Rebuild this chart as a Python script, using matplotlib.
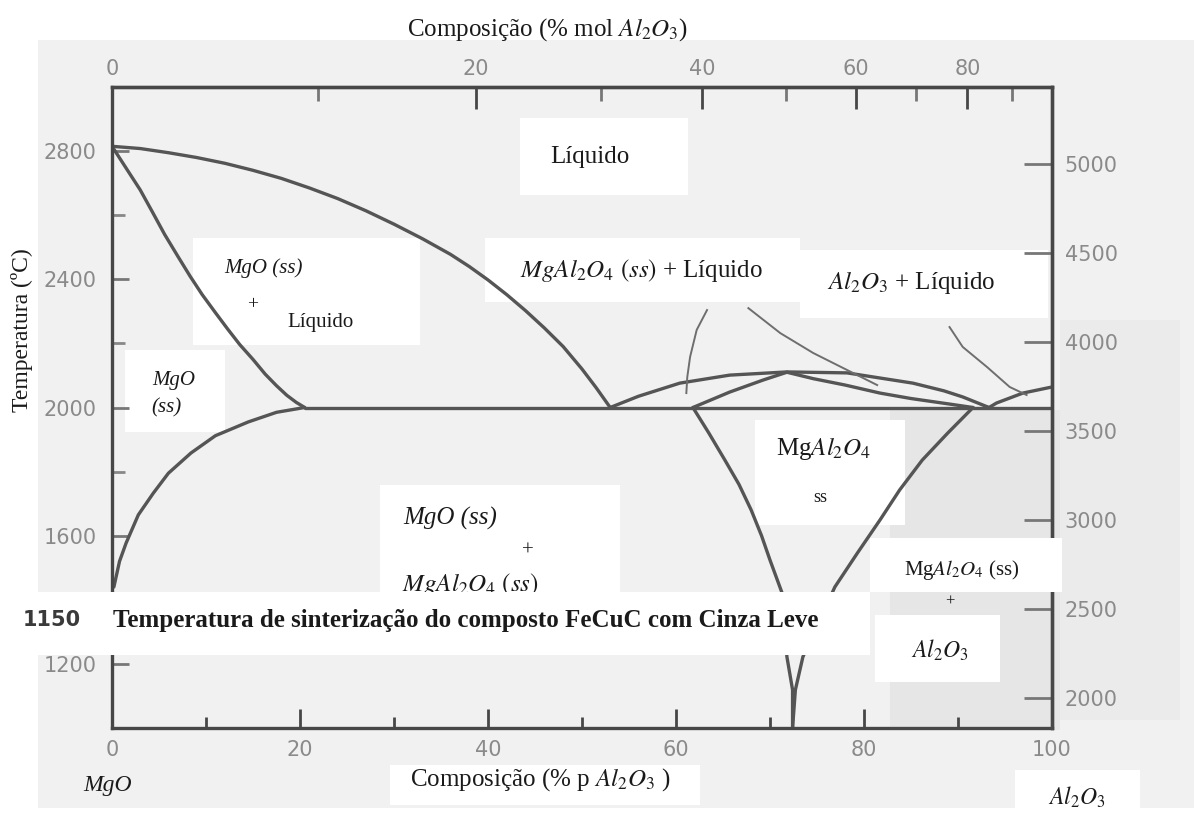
import numpy as np
import matplotlib
matplotlib.use("Agg")
import matplotlib.pyplot as plt
from matplotlib.patches import Rectangle

# ---------------- data (wt% Al2O3, temperature in °C) ----------------
liq_mgo_x = [0, 3, 6, 9, 12, 15, 18, 21, 24, 27, 30, 33, 36, 38, 40, 42, 44, 46, 48, 50,
             51.5, 53]
liq_mgo_T = [2815, 2808, 2795, 2780, 2762, 2740, 2715, 2685, 2652, 2614, 2572, 2527,
             2478, 2440, 2398, 2352, 2302, 2248, 2190, 2120, 2062, 2000]

sol_mgo_x = [0, 1.5, 3, 4.3, 5.6, 7, 8.3, 9.6, 11, 12.3, 13.6, 15, 16.3, 17.5, 18.6, 19.6,
             20.5]
sol_mgo_T = [2815, 2747, 2679, 2610, 2540, 2472, 2410, 2352, 2296, 2245, 2196, 2150,
             2104, 2068, 2038, 2016, 2000]

solv_mgo_x = [0.2, 0.8, 1.5, 2.8, 4.4, 6, 8.4, 11, 14.5, 17.5, 20.5]
solv_mgo_T = [1440, 1520, 1577, 1665, 1733, 1795, 1858, 1912, 1955, 1985, 2000]

eut_x = [20.5, 100]
eut_T = [2000, 2000]

liq_sp_x = [53, 56, 60.4, 65.7, 71.8, 78.2, 85.2, 88.5, 90.5, 93.3]
liq_sp_T = [2000, 2035, 2076, 2101, 2111, 2108, 2076, 2052, 2033, 2000]

sol_sp_x = [61.8, 65.7, 69.3, 71.8, 74.6, 78, 81.7, 85, 88.8, 91.6]
sol_sp_T = [2000, 2048, 2086, 2110, 2090, 2070, 2045, 2028, 2012, 2000]

liq_al_x = [93.3, 94.1, 96.9, 100]
liq_al_T = [2000, 2014, 2045, 2064]

solv_spL_x = [61.8, 63.5, 65.2, 66.7, 68, 69.1, 70, 70.8, 71.3, 71.8, 72.4, 72.4]
solv_spL_T = [2000, 1920, 1836, 1760, 1680, 1600, 1524, 1460, 1420, 1222, 1119, 1000]

solv_spR_x = [91.6, 88.9, 86.2, 83.8, 81.7, 79.3, 76.9, 73.5, 72.7, 72.4]
solv_spR_T = [2000, 1920, 1836, 1743, 1649, 1546, 1440, 1222, 1119, 1000]

lead1_x = [63.3, 62.2, 61.5, 61.2, 61.1]
lead1_T = [2304, 2242, 2158, 2095, 2045]
lead2_x = [67.7, 71.1, 74.6, 78.2, 81.4]
lead2_T = [2310, 2232, 2170, 2117, 2070]
lead3_x = [89.1, 90.5, 93.1, 95.5, 97.3]
lead3_T = [2251, 2189, 2126, 2064, 2039]

bottom_ticks = [0, 20, 40, 60, 80, 100]
top_ticks_mol = [0, 20, 40, 60, 80]
left_ticks = [1200, 1600, 2000, 2400, 2800]
right_ticks_F = [2000, 2500, 3000, 3500, 4000, 4500, 5000]

M_AL2O3 = 101.96
M_MGO = 40.30

# ---------------- figure ----------------
plt.rcParams['mathtext.fontset'] = 'stix'
SERIF = 'Liberation Serif'
W, H = 1194, 832


def fx(x):
    return x / W


def fy(y):
    return 1 - y / H


fig = plt.figure(figsize=(11.94, 8.32), dpi=100, facecolor='white')


def box(x0, y0, x1, y1, color='white', z=-1):
    fig.add_artist(Rectangle((fx(x0), fy(y1)), fx(x1) - fx(x0), fy(y0) - fy(y1),
                             transform=fig.transFigure, facecolor=color,
                             edgecolor='none', zorder=z))


# scanned background
box(38, 40, 1194, 808, '#f1f1f1', -3)
box(890, 410, 1060, 730, '#e6e6e6', -2.5)
box(1060, 320, 1180, 720, '#ebebeb', -2.5)
# white label patches (under curves)
for r in [(520, 118, 688, 195), (193, 238, 420, 345), (125, 350, 225, 432),
          (485, 238, 800, 302), (800, 250, 1048, 318), (755, 420, 905, 525),
          (380, 485, 620, 592), (875, 615, 1000, 682), (390, 765, 700, 805),
          (1015, 770, 1140, 825)]:
    box(*r, z=-1)

ax = fig.add_axes([fx(112), fy(728), fx(1052) - fx(112), fy(87) - fy(728)])
ax.patch.set_visible(False)
ax.set_xlim(0, 100)
ax.set_ylim(1000, 3000)

LC = '#555555'
LW = 2.4
for xs, ts in [(liq_mgo_x, liq_mgo_T), (sol_mgo_x, sol_mgo_T), (solv_mgo_x, solv_mgo_T),
               (eut_x, eut_T), (liq_sp_x, liq_sp_T), (sol_sp_x, sol_sp_T),
               (liq_al_x, liq_al_T), (solv_spL_x, solv_spL_T), (solv_spR_x, solv_spR_T)]:
    ax.plot(xs, ts, color=LC, lw=LW, solid_capstyle='round', solid_joinstyle='round')
for xs, ts in [(lead1_x, lead1_T), (lead2_x, lead2_T), (lead3_x, lead3_T)]:
    ax.plot(xs, ts, color='#6e6e6e', lw=1.4)
ax.plot([81.4, 81.4], [1440, 1490], color='#777777', lw=1.4)

SC = '#474747'
for s in ax.spines.values():
    s.set_color(SC)
    s.set_linewidth(2.4)

TC = '#8a8a8a'
tfont = dict(family='DejaVu Sans', size=15)
ax.set_xticks(bottom_ticks)
ax.set_xticks([10, 30, 50, 70, 90], minor=True)
ax.set_yticks(left_ticks)
ax.set_yticks([1400, 1800, 2200, 2600], minor=True)
ax.set_xticklabels([str(v) for v in bottom_ticks], color=TC, **tfont)
ax.set_yticklabels([str(v) for v in left_ticks], color=TC, **tfont)
ax.tick_params(axis='x', which='major', direction='in', length=14, width=2, color=SC, pad=9)
ax.tick_params(axis='x', which='minor', direction='in', length=8, width=2, color=SC)
ax.tick_params(axis='y', which='major', direction='in', length=12, width=2, color='#777', pad=11)
ax.tick_params(axis='y', which='minor', direction='in', length=9, width=2, color='#888')


def wt2mol(w):
    w = np.clip(np.asarray(w, dtype=float), 0, 100)
    a = w / M_AL2O3
    b = (100 - w) / M_MGO
    return 100 * a / (a + b)


def mol2wt(m):
    m = np.clip(np.asarray(m, dtype=float), 0, 100)
    a = m * M_AL2O3
    b = (100 - m) * M_MGO
    return 100 * a / (a + b)


sec = ax.secondary_xaxis('top', functions=(wt2mol, mol2wt))
sec.set_xticks(top_ticks_mol)
sec.set_xticks([10, 30, 50, 70, 90], minor=True)
sec.set_xticklabels([str(v) for v in top_ticks_mol], color=TC, **tfont)
sec.tick_params(which='major', direction='in', length=16, width=2, color=SC, pad=6)
sec.tick_params(which='minor', direction='in', length=10, width=2, color='#777')
sec.spines['top'].set_color(SC)
sec.spines['top'].set_linewidth(2.4)


def c2f(c):
    return np.asarray(c, dtype=float) * 9 / 5 + 32


def f2c(f):
    return (np.asarray(f, dtype=float) - 32) * 5 / 9


secy = ax.secondary_yaxis('right', functions=(c2f, f2c))
secy.set_yticks(right_ticks_F)
secy.set_yticklabels([str(v) for v in right_ticks_F], color=TC, **tfont)
secy.tick_params(direction='in', length=20, width=2, color='#777', pad=9)
secy.spines['right'].set_color(SC)
secy.spines['right'].set_linewidth(2.4)

# white patches that cover axis lines
box(0, 592, 870, 655, z=5)
box(870, 538, 1062, 592, z=5)


def T(x, y, s, size, ha='center', va='center', style='normal', weight='normal',
      color='#1a1a1a', family=SERIF, z=10, rotation=0):
    fig.text(fx(x), fy(y), s, fontsize=size, ha=ha, va=va, fontstyle=style,
             fontweight=weight, color=color, family=family, zorder=z, rotation=rotation)


T(548, 30, r'Composição (% mol $Al_2O_3$)', 18)
T(22, 330, 'Temperatura (ºC)', 17, rotation=90)
T(108, 786, 'MgO', 17, style='italic')
T(1077, 797, r'$Al_2O_3$', 17)
T(540, 780, r'Composição (% p $Al_2O_3$ )', 18)
T(52, 620, '1150', 15, weight='bold', family='DejaVu Sans', color='#3a3a3a')
T(113, 620, 'Temperatura de sinterização do composto FeCuC com Cinza Leve', 18,
  ha='left', weight='bold')
T(590, 157, 'Líquido', 18)
T(264, 268, 'MgO (ss)', 15, style='italic')
T(253, 305, '+', 14)
T(320, 322, 'Líquido', 15)
T(152, 381, 'MgO', 15, ha='left', style='italic')
T(151, 408, '(ss)', 15, ha='left', style='italic')
T(520, 270, r'$MgAl_2O_4$ $(ss)$ + Líquido', 18, ha='left')
T(827, 283, r'$Al_2O_3$ + Líquido', 18, ha='left')
T(824, 448, r'Mg$Al_2O_4$', 18)
T(820, 498, 'ss', 13)
T(450, 518, 'MgO (ss)', 18, style='italic')
T(528, 551, '+', 15)
T(470, 584, r'$MgAl_2O_4\ (ss)$', 18, z=4)
T(962, 570, r'Mg$Al_2O_4$ (ss)', 15)
T(950, 602, '+', 12)
T(940, 650, r'$Al_2O_3$', 17)

fig.savefig('out.png', dpi=100, facecolor='white')
